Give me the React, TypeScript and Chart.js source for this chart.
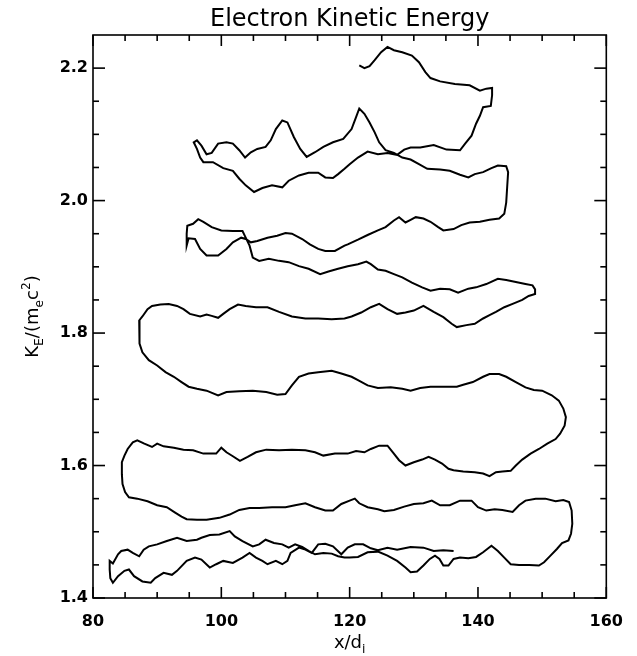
import React, { useEffect, useRef } from 'react';
import { Chart, registerables } from 'chart.js';

Chart.register(...registerables);

const chartTitle = 'Electron Kinetic Energy';
const xRange = [80, 160];
const yRange = [1.4, 2.25];
const xTickValues = [80, 100, 120, 140, 160];
const yTickValues = [1.4, 1.6, 1.8, 2.0, 2.2];
const xMinorTicks = [85, 90, 95, 105, 110, 115, 125, 130, 135, 145, 150, 155];
const yMinorTicks = [1.45, 1.5, 1.55, 1.65, 1.7, 1.75, 1.85, 1.9, 1.95, 2.05, 2.1, 2.15];

// trajectory, in order, split into bands
const bandA: [number, number][] = [
  [121.5, 2.204], [122.3, 2.2], [123.1, 2.203], [123.9, 2.212], [124.9, 2.224], [125.9, 2.232],
  [126.9, 2.227], [128.2, 2.224], [129.7, 2.219], [130.8, 2.209], [131.8, 2.194], [132.6, 2.185],
  [134.1, 2.18], [136.4, 2.176], [138.7, 2.174], [140.3, 2.166], [141.3, 2.169], [142.2, 2.17],
  [142.2, 2.159], [142.0, 2.143], [140.8, 2.141], [140.3, 2.128], [139.7, 2.116], [139.0, 2.098],
  [138.0, 2.086], [137.2, 2.076], [135.1, 2.077], [133.1, 2.084], [131.0, 2.08], [129.5, 2.08],
  [128.5, 2.077], [127.4, 2.069], [125.9, 2.072], [124.4, 2.07], [122.8, 2.074], [121.3, 2.065],
  [120.0, 2.055], [119.2, 2.048], [118.2, 2.04], [117.4, 2.034], [116.2, 2.035], [115.1, 2.042],
  [113.6, 2.042], [112.1, 2.038], [110.5, 2.03], [109.5, 2.02], [107.9, 2.023], [106.4, 2.019],
  [105.1, 2.013], [103.8, 2.023], [102.8, 2.033], [101.8, 2.045], [100.3, 2.049], [98.7, 2.058],
  [97.2, 2.058], [96.7, 2.065], [96.2, 2.078], [95.7, 2.088], [96.2, 2.091],
];

const bandB: [number, number][] = [
  [96.9, 2.083], [97.7, 2.07], [98.5, 2.072], [99.5, 2.086], [100.8, 2.088], [101.8, 2.086],
  [102.8, 2.076], [103.7, 2.065], [104.6, 2.073], [105.6, 2.078], [106.9, 2.081], [107.7, 2.091],
  [108.5, 2.108], [109.5, 2.121], [110.3, 2.118], [111.3, 2.096], [112.3, 2.078], [113.3, 2.066],
  [114.6, 2.073], [115.9, 2.081], [117.4, 2.088], [119.0, 2.093], [120.3, 2.108], [121.0, 2.126],
  [121.5, 2.139], [122.3, 2.131], [123.1, 2.118], [123.9, 2.103], [124.6, 2.088], [125.6, 2.076],
  [126.9, 2.072], [128.2, 2.065], [129.5, 2.062], [130.8, 2.055], [132.1, 2.048], [134.1, 2.047],
  [135.6, 2.045], [137.2, 2.039], [138.5, 2.035], [139.5, 2.04], [140.8, 2.043], [142.1, 2.049],
  [143.1, 2.053], [144.4, 2.052], [144.7, 2.043], [144.6, 2.028], [144.4, 1.997], [144.1, 1.98],
  [143.3, 1.973], [141.8, 1.971], [140.3, 1.968], [138.7, 1.967], [137.4, 1.963], [136.2, 1.957],
  [134.6, 1.955], [133.8, 1.96], [132.6, 1.968], [131.5, 1.973], [130.3, 1.975], [129.5, 1.971],
  [128.7, 1.967], [127.7, 1.975], [126.9, 1.97], [125.6, 1.96], [124.4, 1.955], [122.8, 1.948],
  [121.3, 1.941], [119.7, 1.934], [119.2, 1.932], [117.7, 1.924], [116.2, 1.924], [115.1, 1.927],
  [113.8, 1.934], [112.6, 1.942], [111.0, 1.95], [110.0, 1.951], [108.7, 1.947], [107.2, 1.944],
  [105.6, 1.939], [104.6, 1.937], [103.8, 1.942], [103.1, 1.944], [101.8, 1.937], [100.8, 1.927],
  [99.5, 1.917], [97.7, 1.917], [96.7, 1.927], [95.9, 1.942], [94.9, 1.943], [94.6, 1.932],
  [94.6, 1.95], [94.7, 1.962],
];

const bandC: [number, number][] = [
  [95.6, 1.965], [96.4, 1.972], [97.2, 1.968], [98.5, 1.96], [100.0, 1.955], [101.8, 1.954],
  [103.3, 1.954], [103.8, 1.944], [104.4, 1.932], [104.9, 1.914], [105.9, 1.909], [107.4, 1.912],
  [109.0, 1.909], [110.5, 1.907], [112.1, 1.901], [113.6, 1.897], [115.4, 1.889], [116.7, 1.893],
  [118.2, 1.897], [119.7, 1.901], [121.3, 1.904], [122.6, 1.908], [123.3, 1.904], [124.4, 1.896],
  [125.6, 1.894], [126.9, 1.889], [128.2, 1.884], [129.7, 1.876], [131.3, 1.869], [132.6, 1.864],
  [134.1, 1.867], [135.6, 1.866], [136.9, 1.861], [138.5, 1.867], [139.7, 1.869], [141.3, 1.874],
  [143.1, 1.882], [144.4, 1.88], [145.9, 1.877], [147.4, 1.874], [148.5, 1.872], [148.9, 1.866],
  [148.9, 1.859], [147.9, 1.856], [146.9, 1.85], [145.4, 1.844], [144.1, 1.839], [142.8, 1.832],
  [141.8, 1.827], [140.8, 1.822], [139.5, 1.814], [138.2, 1.812], [136.7, 1.809], [135.9, 1.814],
  [134.6, 1.824], [133.1, 1.832], [131.5, 1.841], [130.0, 1.834], [128.7, 1.831], [127.4, 1.829],
  [125.9, 1.836], [124.6, 1.844], [123.3, 1.839], [121.8, 1.831], [120.3, 1.825], [119.2, 1.822],
  [117.2, 1.821], [115.1, 1.822], [113.1, 1.822], [111.0, 1.825], [109.0, 1.832], [107.2, 1.839],
  [105.4, 1.839], [103.8, 1.841], [102.6, 1.843], [101.3, 1.836], [100.3, 1.829], [99.5, 1.823],
  [98.5, 1.826], [97.7, 1.828], [96.7, 1.825], [95.1, 1.829], [94.1, 1.836], [93.1, 1.841],
  [91.8, 1.844], [90.5, 1.843], [89.2, 1.841], [88.5, 1.836], [87.7, 1.825],
];

const bandD: [number, number][] = [
  [87.2, 1.819], [87.2, 1.799], [87.3, 1.784], [87.7, 1.771], [88.7, 1.759], [90.0, 1.751],
  [91.3, 1.741], [92.6, 1.734], [93.8, 1.726], [94.9, 1.719], [96.2, 1.716], [97.7, 1.713],
  [99.5, 1.706], [100.8, 1.711], [102.8, 1.712], [104.9, 1.713], [107.0, 1.711], [108.7, 1.707],
  [110.0, 1.708], [111.0, 1.721], [112.1, 1.734], [113.6, 1.739], [115.1, 1.741], [117.2, 1.743],
  [118.7, 1.739], [120.3, 1.734], [121.3, 1.729], [122.8, 1.721], [124.4, 1.717], [126.4, 1.718],
  [128.2, 1.716], [129.5, 1.713], [131.0, 1.717], [132.6, 1.719], [134.6, 1.719], [136.7, 1.719],
  [137.7, 1.722], [139.2, 1.726], [140.8, 1.734], [141.8, 1.738], [143.3, 1.738], [144.4, 1.734],
  [145.9, 1.726], [147.4, 1.718], [148.7, 1.714], [150.0, 1.713], [151.5, 1.706], [152.6, 1.698],
  [153.3, 1.686], [153.7, 1.673], [153.5, 1.66], [152.8, 1.648], [152.1, 1.64], [150.8, 1.633],
  [149.5, 1.625], [148.2, 1.618], [146.9, 1.609], [145.9, 1.6], [145.1, 1.592], [143.8, 1.591],
  [142.8, 1.59], [141.8, 1.584], [140.8, 1.588], [139.5, 1.59], [137.7, 1.591], [136.2, 1.593],
  [135.4, 1.595], [134.4, 1.603], [133.3, 1.609], [132.3, 1.613], [131.3, 1.609], [130.0, 1.605],
  [128.7, 1.6], [127.7, 1.608], [126.8, 1.619], [125.9, 1.63], [124.6, 1.63], [123.3, 1.625],
  [122.3, 1.62], [121.0, 1.622], [119.7, 1.618], [117.7, 1.618], [115.9, 1.615], [114.6, 1.62],
  [113.1, 1.623], [111.0, 1.624], [109.0, 1.623], [107.0, 1.624], [105.4, 1.62], [104.1, 1.613],
  [102.9, 1.607], [101.8, 1.614], [100.8, 1.62], [100.0, 1.627], [99.2, 1.618], [97.2, 1.618],
  [95.6, 1.623], [94.1, 1.624], [92.6, 1.627], [91.0, 1.629], [90.0, 1.633], [89.2, 1.628],
  [88.0, 1.633], [86.9, 1.638], [86.2, 1.635], [85.4, 1.625], [84.9, 1.615], [84.5, 1.605],
  [84.5, 1.587], [84.6, 1.572], [85.0, 1.56], [85.6, 1.552], [86.9, 1.55], [88.5, 1.546],
  [90.0, 1.54], [91.5, 1.537], [92.8, 1.529], [93.8, 1.523], [94.6, 1.519], [96.2, 1.518],
  [97.7, 1.518], [99.7, 1.521], [101.3, 1.526], [102.8, 1.533], [104.4, 1.536], [105.9, 1.536],
  [107.9, 1.537], [110.0, 1.537], [111.5, 1.54], [113.1, 1.543], [114.6, 1.537], [116.2, 1.532],
  [117.4, 1.532], [118.7, 1.542], [120.0, 1.547],
];

const bandE: [number, number][] = [
  [120.8, 1.55], [121.5, 1.543], [122.8, 1.537], [124.4, 1.534], [125.4, 1.531], [126.9, 1.533],
  [128.5, 1.538], [130.0, 1.542], [131.5, 1.543], [132.8, 1.547], [134.1, 1.54], [135.6, 1.54],
  [137.2, 1.547], [139.0, 1.547], [140.0, 1.537], [141.3, 1.532], [142.6, 1.534], [143.8, 1.533],
  [145.4, 1.53], [146.4, 1.54], [147.4, 1.547], [149.0, 1.55], [150.5, 1.55], [152.1, 1.546],
  [153.3, 1.548], [154.2, 1.545], [154.6, 1.532], [154.7, 1.512], [154.5, 1.497], [154.1, 1.487],
  [153.1, 1.483], [152.3, 1.474], [151.3, 1.464], [150.3, 1.454], [149.5, 1.449], [148.0, 1.45],
  [146.4, 1.45], [145.1, 1.451], [144.1, 1.461], [143.1, 1.471], [142.1, 1.479], [140.8, 1.469],
  [139.7, 1.462], [138.5, 1.46], [137.2, 1.461], [136.2, 1.459], [135.4, 1.449], [134.6, 1.449],
  [134.0, 1.459], [133.3, 1.464], [132.5, 1.459], [131.5, 1.449], [130.5, 1.44], [129.5, 1.439],
  [128.7, 1.446], [127.4, 1.456], [125.9, 1.464], [124.4, 1.47], [122.8, 1.469], [121.3, 1.462],
  [120.0, 1.461],
];

const bandF: [number, number][] = [
  [119.2, 1.461], [118.2, 1.463], [117.2, 1.467], [115.9, 1.468], [114.6, 1.466], [113.6, 1.471],
  [112.6, 1.477], [111.5, 1.481], [110.5, 1.476], [109.5, 1.481], [108.2, 1.483], [106.9, 1.488],
  [105.9, 1.481], [104.9, 1.478], [103.3, 1.486], [102.1, 1.493], [101.3, 1.501], [99.7, 1.496],
  [98.2, 1.495], [96.9, 1.491], [96.2, 1.488], [94.6, 1.486], [93.1, 1.491], [91.5, 1.486],
  [90.0, 1.481], [88.7, 1.478], [87.9, 1.473], [87.2, 1.463], [86.2, 1.468], [85.4, 1.473],
  [84.4, 1.471], [83.9, 1.466], [83.1, 1.452], [82.6, 1.456], [82.6, 1.443], [82.7, 1.43],
  [83.1, 1.423], [83.9, 1.433], [84.9, 1.441], [85.6, 1.443], [86.4, 1.433], [87.7, 1.425],
  [89.0, 1.423], [89.7, 1.43], [91.0, 1.438], [92.3, 1.435], [93.1, 1.441], [94.6, 1.456],
  [95.9, 1.461], [96.9, 1.458], [98.2, 1.446], [99.2, 1.451], [100.3, 1.456], [101.8, 1.453],
  [103.3, 1.461], [104.4, 1.468], [105.4, 1.461], [106.4, 1.456], [107.2, 1.451], [108.5, 1.456],
  [109.5, 1.451], [110.3, 1.456], [110.8, 1.468], [112.1, 1.476], [113.1, 1.473], [114.1, 1.468],
  [115.1, 1.481], [116.2, 1.482], [117.4, 1.478], [118.7, 1.466], [119.7, 1.476], [120.8, 1.481],
  [122.1, 1.481], [123.3, 1.475], [124.4, 1.472], [125.9, 1.476], [127.4, 1.473], [129.5, 1.477],
  [131.5, 1.476], [133.1, 1.471], [134.6, 1.472], [136.2, 1.471],
];

const trajectory = [bandA, bandB, bandC, bandD, bandE, bandF];

const FONT = '"DejaVu Sans", "Liberation Sans", sans-serif';

type Part = { t: string; k?: 'sub' | 'sup' };

function richWidth(ctx: CanvasRenderingContext2D, parts: Part[], size: number) {
  let w = 0;
  for (const p of parts) {
    const s = p.k ? size * 0.68 : size;
    ctx.font = `${s}px ${FONT}`;
    w += ctx.measureText(p.t).width;
  }
  return w;
}

function drawRich(ctx: CanvasRenderingContext2D, parts: Part[], size: number) {
  const total = richWidth(ctx, parts, size);
  let x = -total / 2;
  ctx.textAlign = 'left';
  ctx.textBaseline = 'alphabetic';
  for (const p of parts) {
    const s = p.k ? size * 0.68 : size;
    const dy = p.k === 'sub' ? size * 0.28 : p.k === 'sup' ? -size * 0.45 : 0;
    ctx.font = `${s}px ${FONT}`;
    ctx.fillText(p.t, x, dy);
    x += ctx.measureText(p.t).width;
  }
}

const xTitle: Part[] = [{ t: 'x/d' }, { t: 'i', k: 'sub' }];
const yTitle: Part[] = [
  { t: 'K' }, { t: 'E', k: 'sub' }, { t: '/(m' }, { t: 'e', k: 'sub' }, { t: 'c' }, { t: '2', k: 'sup' }, { t: ')' },
];

const decorPlugin = {
  id: 'decor',
  afterDraw(chart: any) {
    const { ctx, chartArea: a, scales } = chart;
    const xs = scales.x;
    const ys = scales.y;
    ctx.save();
    ctx.strokeStyle = '#000';
    ctx.lineWidth = 1.6;
    ctx.strokeRect(a.left, a.top, a.right - a.left, a.bottom - a.top);
    const seg = (x1: number, y1: number, x2: number, y2: number) => {
      ctx.beginPath();
      ctx.moveTo(x1, y1);
      ctx.lineTo(x2, y2);
      ctx.stroke();
    };
    const xt = (v: number, len: number) => {
      const p = xs.getPixelForValue(v);
      seg(p, a.bottom, p, a.bottom - len);
      seg(p, a.top, p, a.top + len);
    };
    const yt = (v: number, len: number) => {
      const p = ys.getPixelForValue(v);
      seg(a.left, p, a.left + len, p);
      seg(a.right, p, a.right - len, p);
    };
    xTickValues.forEach((v) => xt(v, 11));
    xMinorTicks.forEach((v) => xt(v, 6));
    yTickValues.forEach((v) => yt(v, 12));
    yMinorTicks.forEach((v) => yt(v, 6));

    ctx.fillStyle = '#000';
    ctx.font = `24px ${FONT}`;
    ctx.textAlign = 'center';
    ctx.textBaseline = 'alphabetic';
    ctx.fillText(chartTitle, (a.left + a.right) / 2, 26);

    ctx.save();
    ctx.translate((a.left + a.right) / 2, 648);
    drawRich(ctx, xTitle, 18);
    ctx.restore();

    ctx.save();
    ctx.translate(38, (a.top + a.bottom) / 2);
    ctx.rotate(-Math.PI / 2);
    drawRich(ctx, yTitle, 18);
    ctx.restore();

    ctx.restore();
  },
};

export default function App() {
  const ref = useRef<HTMLCanvasElement | null>(null);
  useEffect(() => {
    if (!ref.current) return;
    const points = trajectory.flat().map(([x, y]) => ({ x, y }));
    const chart = new Chart(ref.current, {
      type: 'scatter',
      data: {
        datasets: [
          {
            data: points,
            showLine: true,
            borderColor: '#000',
            backgroundColor: '#000',
            borderWidth: 2,
            pointRadius: 0,
            tension: 0,
            fill: false,
          },
        ],
      },
      options: {
        animation: false,
        responsive: false,
        devicePixelRatio: 1,
        layout: { padding: { top: 35, right: 22, left: 0, bottom: 0 } },
        plugins: { legend: { display: false }, tooltip: { enabled: false }, title: { display: false } },
        scales: {
          x: {
            type: 'linear',
            position: 'bottom',
            min: xRange[0],
            max: xRange[1],
            afterBuildTicks: (s: any) => {
              s.ticks = xTickValues.map((value) => ({ value }));
            },
            afterFit: (s: any) => {
              s.height = 58;
            },
            grid: { display: false, drawTicks: false },
            border: { display: false },
            ticks: {
              color: '#000',
              padding: 14,
              maxRotation: 0,
              autoSkip: false,
              font: { family: FONT, size: 16, weight: 'bold' },
              callback: (v: any) => String(v),
            },
          },
          y: {
            type: 'linear',
            position: 'left',
            min: yRange[0],
            max: yRange[1],
            afterBuildTicks: (s: any) => {
              s.ticks = yTickValues.map((value) => ({ value }));
            },
            afterFit: (s: any) => {
              s.width = 93;
            },
            grid: { display: false, drawTicks: false },
            border: { display: false },
            ticks: {
              color: '#000',
              padding: 5,
              autoSkip: false,
              font: { family: FONT, size: 16, weight: 'bold' },
              callback: (v: any) => Number(v).toFixed(1),
            },
          },
        },
      },
      plugins: [decorPlugin],
    } as any);
    return () => chart.destroy();
  }, []);
  return (
    <div style={{ position: 'fixed', left: 0, top: 0, width: 637, height: 656, background: '#fff' }}>
      <canvas ref={ref} width={637} height={656} style={{ display: 'block' }} />
    </div>
  );
}
